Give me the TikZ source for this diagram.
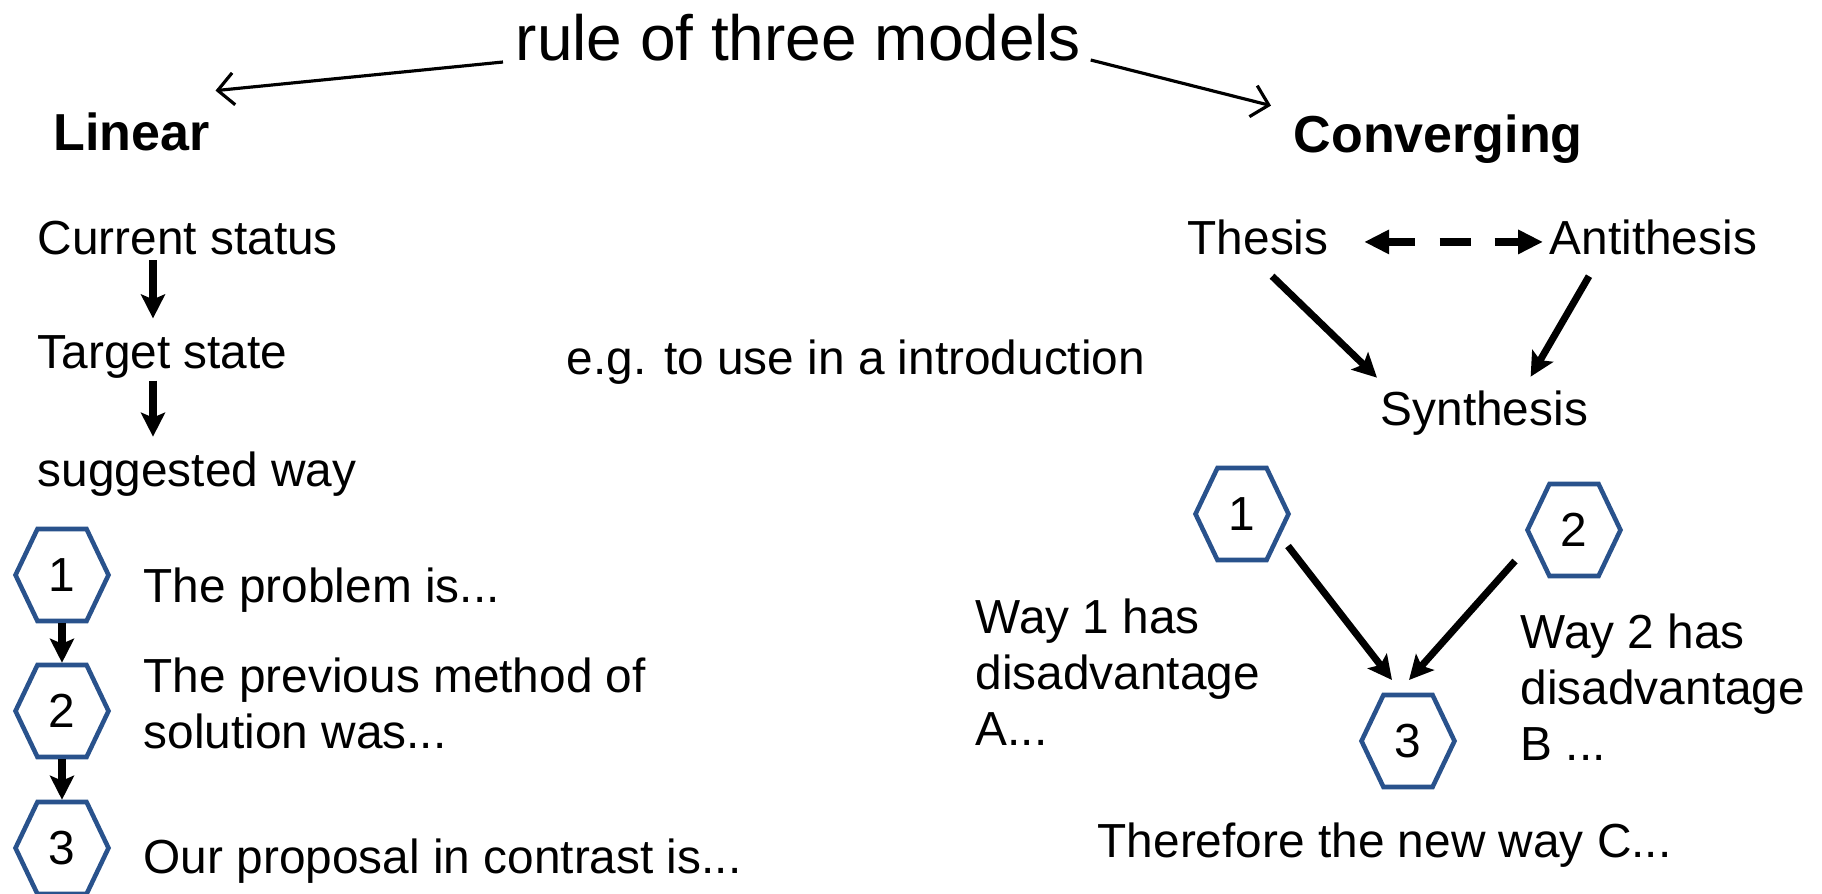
\documentclass[tikz,border=0pt]{standalone}
\usepackage{fontspec}
\setmainfont{Liberation Sans}
\usetikzlibrary{arrows.meta,shapes.symbols}

\definecolor{hexblue}{RGB}{41,82,140}

\tikzset{
    txt/.style={inner sep=0pt, anchor=base west, align=left,
        font=\fontsize{13.6}{15.9}\selectfont},
    headline/.style={inner sep=0pt, anchor=base west,
        font=\fontsize{14.8}{17}\selectfont\bfseries},
    hexnum/.style={shape=signal, signal to=west and east,
        signal pointer angle=129, draw=hexblue, line width=1.3pt,
        minimum width=9.3mm, minimum height=9.2mm, inner sep=0pt,
        font=\fontsize{13.6}{15.9}\selectfont},
    thinarrow/.style={-{Straight Barb[length=1.6mm,width=3.2mm]}, line width=0.9pt},
    thickarrow/.style={-{Stealth[length=2.4mm,width=2.4mm,inset=0.5mm]}, line width=2pt},
}

\begin{document}
\begin{tikzpicture}[x=0.1mm, y=-0.1mm]
    \useasboundingbox (0,0) rectangle (1822,893);

    \node[inner sep=0pt, anchor=base west, font=\fontsize{18.2}{21}\selectfont]
        (title) at (515,60) {rule of three models};
    \node[headline] (lin) at (53,150) {Linear};
    \node[headline] (conv) at (1293,152) {Converging};

    \draw[thinarrow] ([xshift=-1.2mm,yshift=-0.2mm]title.base west) -- ([xshift=0.5mm,yshift=2.1mm]lin.north east);
    \draw[thinarrow] ([xshift=0.9mm]title.base east) -- ([xshift=-2.2mm,yshift=0.8mm]conv.north west);

    % linear model
    \node[txt] (cur) at (37,254) {Current status};
    \node[txt] (tgt) at (37,368) {Target state};
    \node[txt] (way) at (37,486) {suggested way};
    \draw[thickarrow, shorten <=0.5mm, shorten >=1.6mm]
        ([xshift=11.6mm]cur.south west) -- ([xshift=11.6mm]tgt.north west);
    \draw[thickarrow, shorten <=0.2mm, shorten >=1.4mm]
        ([xshift=11.6mm]tgt.south west) -- ([xshift=11.6mm]way.north west);

    \foreach \n/\y in {1/575, 2/711, 3/848}
        \node[hexnum] (l\n) at (62,\y) {\n};
    \draw[thickarrow] (l1.south) -- (l2.north);
    \draw[thickarrow] (l2.south) -- (l3.north);

    % base of a two-line text is its last line
    \node[txt] (p1) at (143,602) {The problem is...};
    \node[txt] (p2) at (143,748) {The previous method of\\solution was...};
    \node[txt] (p3) at (143,873) {Our proposal in contrast is...};

    \node[txt] (eg) at (566,374) {e.g. to use in a introduction};

    % converging model
    \node[txt] (th) at (1187,254) {Thesis};
    \node[txt] (anti) at (1549,254) {Antithesis};
    \node[txt] (syn) at (1380,425) {Synthesis};
    \draw[{Triangle[length=2.5mm,width=2.3mm]}-{Triangle[length=2.5mm,width=2.3mm]},
        line width=2.1pt, dash pattern=on 2.7mm off 2.5mm on 3.1mm off 2.4mm on 3mm,
        shorten <=3.5mm, shorten >=0.6mm]
        ([yshift=-0.5mm]th.east) -- ([yshift=-0.5mm]anti.west);
    \draw[thickarrow] ([xshift=1.4mm,yshift=-2.1mm]th.south) -- ([xshift=-0.3mm,yshift=1.2mm]syn.north west);
    \draw[thickarrow] ([xshift=4mm,yshift=-2.1mm]anti.south west) -- ([xshift=-5.8mm,yshift=1.3mm]syn.north east);

    \node[hexnum] (r1) at (1242,514) {1};
    \node[hexnum] (r2) at (1574,530) {2};
    \node[hexnum] (r3) at (1408,741) {3};
    \draw[thickarrow] ([xshift=4.6mm,yshift=-3.2mm]r1.center) -- ([xshift=-1.6mm,yshift=6.1mm]r3.center);
    \draw[thickarrow] ([xshift=-5.9mm,yshift=-3.1mm]r2.center) -- ([xshift=0.1mm,yshift=6.1mm]r3.center);

    \node[txt] (w1) at (975,745) {Way 1 has\\disadvantage\\A...};
    \node[txt] (w2) at (1520,760) {Way 2 has\\disadvantage\\B ...};
    \node[txt] (res) at (1097,857) {Therefore the new way C...};
\end{tikzpicture}
\end{document}
